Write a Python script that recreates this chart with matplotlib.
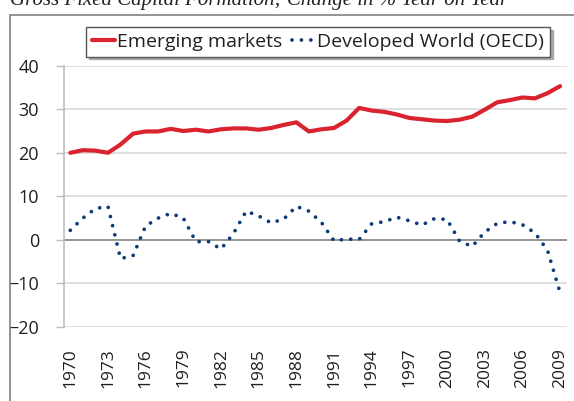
import numpy as np
import matplotlib
matplotlib.use("Agg")
import matplotlib.pyplot as plt
from matplotlib.patches import Rectangle

years = list(range(1970, 2010))
emerging = [20.0, 20.6, 20.5, 20.0, 21.9, 24.4, 24.9, 24.9, 25.5, 25.0,
            25.3, 24.9, 25.4, 25.6, 25.6, 25.3, 25.7, 26.4, 27.0, 24.9,
            25.4, 25.7, 27.4, 30.3, 29.7, 29.4, 28.8, 28.0, 27.7, 27.4,
            27.3, 27.6, 28.3, 29.9, 31.6, 32.1, 32.7, 32.5, 33.7, 35.3]
developed = [2.2, 5.0, 7.2, 7.7, -4.3, -3.6, 3.2, 5.0, 6.1, 5.0,
             -0.4, -0.4, -2.1, 1.5, 6.6, 5.5, 3.9, 4.8, 7.7, 6.6,
             4.0, -0.2, 0.2, 0.1, 3.7, 4.2, 5.2, 4.4, 3.4, 4.9,
             4.7, -0.3, -1.5, 1.8, 3.8, 4.2, 3.5, 1.6, -2.4, -12.1]
tick_years = list(range(1970, 2010, 3))
yticks = [-20, -10, 0, 10, 20, 30, 40]
title = "Gross Fixed Capital Formation; Change in % Year on Year"

plt.rcParams['font.family'] = ['Open Sans', 'DejaVu Sans']

fig = plt.figure(figsize=(5.74, 4.01), dpi=100)
ax = fig.add_axes([64/574, 1 - 327/401, 503/574, (327 - 65.7)/401])

# outer frame, cut off on right and bottom
fig.patches.append(Rectangle((10/574, -0.2), 1.2, 1 - 15/401 + 0.2,
                             transform=fig.transFigure, fill=False,
                             edgecolor='#808080', lw=1.2))
# title sits mostly above the picture, as in the source
fig.text(10/574, 1 - 5/401, title, fontsize=15, style='italic',
         family='Liberation Serif', va='baseline', ha='left', color='#222222')

for v in yticks:
    if v == 0:
        continue
    ax.axhline(v, color='#d9d9d9', lw=1.2, zorder=0)
ax.axhline(0, color='#8c8c8c', lw=1.3, zorder=1)

ax.plot(years, emerging, color='#d9232e', lw=3.0, solid_capstyle='round',
        label='Emerging markets', zorder=3)
ax.plot(years, developed, color='#0d3b78', lw=2.7, linestyle=(0, (0.01, 2.5)),
        dash_capstyle='round', label='Developed World (OECD)', zorder=3)

ax.set_xlim(1969.5, 2009.55)
ax.set_ylim(-20, 40)
ax.set_yticks(yticks)
ax.set_xticks(tick_years)
ax.set_xticklabels([str(y) for y in tick_years], rotation=90, fontsize=12.5,
                   color='#231f20')
ax.tick_params(axis='x', length=0, pad=15)
ax.tick_params(axis='y', length=6, width=1, color='#bfbfbf', pad=12,
               labelsize=13, labelcolor='#231f20')
for s in ['top', 'right', 'bottom']:
    ax.spines[s].set_visible(False)
ax.spines['left'].set_color('#bfbfbf')
ax.spines['left'].set_linewidth(1.2)

leg = ax.legend(loc='upper left', bbox_to_anchor=(0.0437, 1.148), ncol=2,
                fontsize=14, handlelength=1.2, handletextpad=0.1,
                columnspacing=0.5, borderpad=0.3, borderaxespad=0,
                fancybox=False, shadow={'color': '#999999', 'alpha': 0.8},
                framealpha=1)
leg.get_frame().set_edgecolor('#555555')
leg.get_frame().set_linewidth(1.0)
for t in leg.get_texts():
    t.set_color('#231f20')

fig.savefig('out.png', dpi=100)
